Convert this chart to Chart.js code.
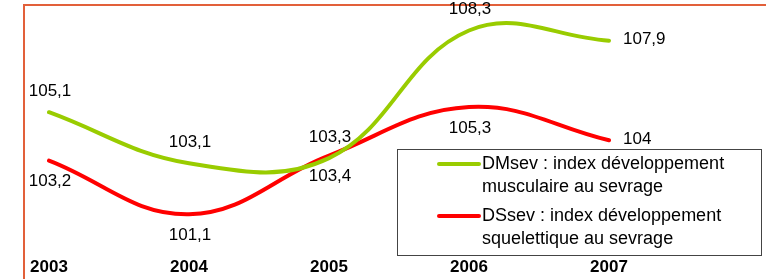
<!DOCTYPE html>
<html>
<head>
<meta charset="utf-8">
<style>
  html, body { margin: 0; padding: 0; background: #fff; }
  #wrap { width: 766px; height: 279px; position: relative; }
</style>
<script src="https://cdn.jsdelivr.net/npm/chart.js@4/dist/chart.umd.min.js"></script>
</head>
<body>
<div id="wrap"><canvas id="chart-1"></canvas></div>
<script>
var years = ['2003', '2004', '2005', '2006', '2007'];
var dmsev = [105.1, 103.1, 103.3, 108.3, 107.9];
var dssev = [103.2, 101.1, 103.4, 105.3, 104];
var dmsevLabel = ['DMsev : index développement', 'musculaire au sevrage'];
var dssevLabel = ['DSsev : index développement', 'squelettique au sevrage'];

var FONT = '"Liberation Sans", Arial, sans-serif';

// orange frame around the picture (top and left edges only are visible)
var framePlugin = {
    id: 'frame',
    beforeDraw: function (chart) {
        var ctx = chart.ctx;
        ctx.save();
        ctx.strokeStyle = '#e2603a';
        ctx.lineWidth = 2;
        ctx.beginPath();
        ctx.moveTo(24, 279);
        ctx.lineTo(24, 5);
        ctx.lineTo(766, 5);
        ctx.stroke();
        ctx.restore();
    }
};

// value labels: green above, red below, last point on the right
var valueLabels = {
    id: 'valueLabels',
    afterDatasetsDraw: function (chart) {
        var ctx = chart.ctx;
        ctx.save();
        ctx.font = '17px ' + FONT;
        ctx.fillStyle = '#000';
        ctx.textBaseline = 'middle';
        chart.data.datasets.forEach(function (ds, di) {
            var meta = chart.getDatasetMeta(di);
            meta.data.forEach(function (pt, i) {
                var txt = String(ds.data[i]).replace('.', ',');
                var last = i == ds.data.length - 1;
                if (last) {
                    ctx.textAlign = 'left';
                    ctx.fillText(txt, pt.x + 14, pt.y - 1);
                } else {
                    ctx.textAlign = 'center';
                    ctx.fillText(txt, pt.x + 1, di == 0 ? pt.y - 21 : pt.y + 21);
                }
            });
        });
        ctx.restore();
    }
};

// boxed legend with two-line labels
var boxLegend = {
    id: 'boxLegend',
    afterDatasetsDraw: function (chart) {
        var ctx = chart.ctx;
        var box = { x: 397.5, y: 149.5, w: 364, h: 106 };
        ctx.save();
        ctx.fillStyle = '#fff';
        ctx.fillRect(box.x, box.y, box.w, box.h);
        ctx.strokeStyle = '#444';
        ctx.lineWidth = 1;
        ctx.strokeRect(box.x, box.y, box.w, box.h);
        ctx.font = '18px ' + FONT;
        ctx.textBaseline = 'middle';
        ctx.textAlign = 'left';
        chart.data.datasets.forEach(function (ds, di) {
            var y = 164 + di * 52;
            ctx.strokeStyle = ds.borderColor;
            ctx.lineWidth = 4;
            ctx.lineCap = 'round';
            ctx.beginPath();
            ctx.moveTo(439, y);
            ctx.lineTo(479, y);
            ctx.stroke();
            ctx.fillStyle = '#000';
            ds.label.forEach(function (line, li) {
                ctx.fillText(line, 482, y + li * 23);
            });
        });
        ctx.restore();
    }
};

new Chart(document.getElementById('chart-1'), {
    type: 'line',
    data: {
        labels: years,
        datasets: [
            { label: dmsevLabel, data: dmsev, borderColor: '#99cc00' },
            { label: dssevLabel, data: dssev, borderColor: '#ff0000' }
        ]
    },
    options: {
        responsive: true,
        maintainAspectRatio: false,
        animation: false,
        devicePixelRatio: 1,
        layout: { padding: { left: 49, right: 157, top: 5, bottom: 0 } },
        elements: {
            line: { borderWidth: 4, tension: 0.4, borderCapStyle: 'round', fill: false },
            point: { radius: 0, hoverRadius: 0 }
        },
        plugins: {
            legend: { display: false },
            tooltip: { enabled: false }
        },
        scales: {
            x: {
                offset: false,
                grid: { display: false, drawTicks: false },
                border: { display: false },
                ticks: {
                    color: '#000',
                    font: { family: FONT, size: 17, weight: 'bold' },
                    padding: 7,
                    maxRotation: 0,
                    autoSkip: false
                },
                afterFit: function (scale) { scale.height = 29; }
            },
            y: {
                display: false,
                min: 99.7,
                max: 109.3
            }
        }
    },
    plugins: [framePlugin, valueLabels, boxLegend]
});
</script>
</body>
</html>
